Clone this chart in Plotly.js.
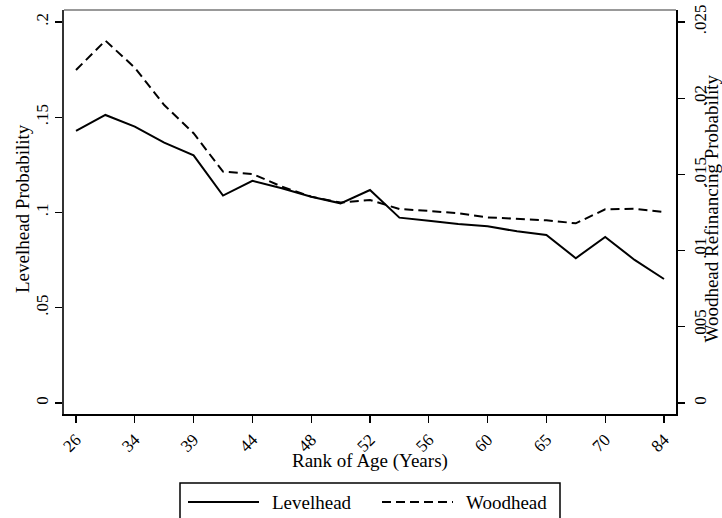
<!DOCTYPE html>
<html>
<head>
<meta charset="utf-8">
<script src="https://cdn.plot.ly/plotly-3.0.1.min.js"></script>
<style>
  html, body { margin: 0; padding: 0; background: #ffffff; }
  #chart { width: 722px; height: 518px; }
</style>
</head>
<body>
<div id="chart"></div>
<script>
// Age rank positions and the age shown at every other rank
const rank = [1, 2, 3, 4, 5, 6, 7, 8, 9, 10, 11, 12, 13, 14, 15, 16, 17, 18, 19, 20, 21];
const tickRanks = [1, 3, 5, 7, 9, 11, 13, 15, 17, 19, 21];
const ageLabels = ['26', '34', '39', '44', '48', '52', '56', '60', '65', '70', '84'];

// Levelhead probability (left axis)
const levelhead = [0.1428, 0.1512, 0.1451, 0.1367, 0.1300, 0.1089, 0.1166, 0.1127, 0.1083, 0.1048, 0.1118,
                   0.0973, 0.0957, 0.0940, 0.0928, 0.0901, 0.0882, 0.0760, 0.0872, 0.0751, 0.0651];

// Woodhead refinancing probability (right axis)
const woodhead = [0.02185, 0.02378, 0.02200, 0.01955, 0.01770, 0.01518, 0.01503, 0.01420, 0.01354, 0.01315, 0.01332,
                  0.01273, 0.01260, 0.01245, 0.01218, 0.01210, 0.01199, 0.01179, 0.01271, 0.01275, 0.01253];

// Axis tick values and their printed labels
const leftTicks = [0, 0.05, 0.1, 0.15, 0.2];
const leftTickText = ['0', '.05', '.1', '.15', '.2'];
const rightTicks = [0, 0.005, 0.01, 0.015, 0.02, 0.025];
const rightTickText = ['0', '.005', '.01', '.015', '.02', '.025'];

// Axis titles
const xTitle = 'Rank of Age (Years)';
const yTitle = 'Levelhead Probability';
const y2Title = 'Woodhead Refinancing Probability';

const serif = 'Liberation Serif, Times New Roman, serif';
const dashStyle = '9px,5px';
const tickSize = 17;
const titleSize = 19;

const traces = [
  {
    x: rank, y: levelhead, name: 'Levelhead', type: 'scatter', mode: 'lines',
    line: { color: '#000000', width: 2 }, yaxis: 'y'
  },
  {
    x: rank, y: woodhead, name: 'Woodhead', type: 'scatter', mode: 'lines',
    line: { color: '#000000', width: 2, dash: dashStyle }, yaxis: 'y2'
  }
];

// Plot area in pixels: left 64, right 676, top 10, bottom 414
const W = 722, H = 518, L = 64, R = 676, T = 10, B = 414;
const px = v => (v - L) / (R - L);
const py = v => (B - v) / (B - T);

const legendY = py(502);
const shapes = [
  // light frame line along the top of the plot region
  { type: 'line', xref: 'paper', yref: 'paper', x0: 0, x1: 1, y0: 1, y1: 1,
    line: { color: '#777777', width: 1.5 } },
  // legend box
  { type: 'rect', xref: 'paper', yref: 'paper', x0: px(180), x1: px(560), y0: py(540), y1: py(483),
    line: { color: '#000000', width: 1.5 }, fillcolor: 'rgba(0,0,0,0)' },
  // legend samples
  { type: 'line', xref: 'paper', yref: 'paper', x0: px(188), x1: px(259), y0: legendY, y1: legendY,
    line: { color: '#000000', width: 2 } },
  { type: 'line', xref: 'paper', yref: 'paper', x0: px(382), x1: px(453), y0: legendY, y1: legendY,
    line: { color: '#000000', width: 2, dash: dashStyle } }
];

const titleFont = { family: serif, size: titleSize, color: '#000000' };
const annotations = [
  // legend labels
  { xref: 'paper', yref: 'paper', x: px(270), y: legendY, xanchor: 'left', yanchor: 'middle',
    text: traces[0].name, showarrow: false, font: titleFont },
  { xref: 'paper', yref: 'paper', x: px(464), y: legendY, xanchor: 'left', yanchor: 'middle',
    text: traces[1].name, showarrow: false, font: titleFont },
  // axis titles
  { xref: 'paper', yref: 'paper', x: px(370), y: py(461), xanchor: 'center', yanchor: 'middle',
    text: xTitle, showarrow: false, font: titleFont },
  { xref: 'paper', yref: 'paper', x: px(22), y: py(209), xanchor: 'center', yanchor: 'middle',
    text: yTitle, textangle: -90, showarrow: false, font: titleFont },
  { xref: 'paper', yref: 'paper', x: px(710.5), y: py(209), xanchor: 'center', yanchor: 'middle',
    text: y2Title, textangle: -90, showarrow: false, font: titleFont }
];

const layout = {
  width: W, height: H,
  margin: { l: L, r: W - R, t: T, b: H - B, pad: 0 },
  paper_bgcolor: '#ffffff', plot_bgcolor: '#ffffff',
  showlegend: false,
  font: { family: serif, size: tickSize, color: '#000000' },
  xaxis: {
    range: [0.592, 21.408],
    tickmode: 'array', tickvals: tickRanks, ticktext: ageLabels,
    tickangle: -45, ticks: 'outside', ticklen: 7, tickwidth: 1.2, tickcolor: '#000000',
    showline: true, linecolor: '#000000', linewidth: 2, mirror: false,
    showgrid: false, zeroline: false,
    tickfont: { family: serif, size: tickSize }
  },
  yaxis: {
    range: [-0.00578, 0.2063],
    tickmode: 'array', tickvals: leftTicks, ticktext: leftTickText,
    tickangle: -90, ticks: 'outside', ticklen: 7, tickwidth: 1.2, tickcolor: '#000000',
    showline: true, linecolor: '#333333', linewidth: 2,
    showgrid: false, zeroline: false,
    tickfont: { family: serif, size: tickSize }
  },
  yaxis2: {
    overlaying: 'y', side: 'right',
    range: [-0.00578 / 8, 0.2063 / 8],
    tickmode: 'array', tickvals: rightTicks, ticktext: rightTickText,
    tickangle: -90, ticks: 'outside', ticklen: 7, tickwidth: 1.2, tickcolor: '#000000',
    ticklabelstandoff: 1,
    showline: true, linecolor: '#000000', linewidth: 1.5,
    showgrid: false, zeroline: false,
    tickfont: { family: serif, size: tickSize }
  },
  shapes: shapes,
  annotations: annotations
};

Plotly.newPlot('chart', traces, layout, { displayModeBar: false, staticPlot: true });
</script>
</body>
</html>
